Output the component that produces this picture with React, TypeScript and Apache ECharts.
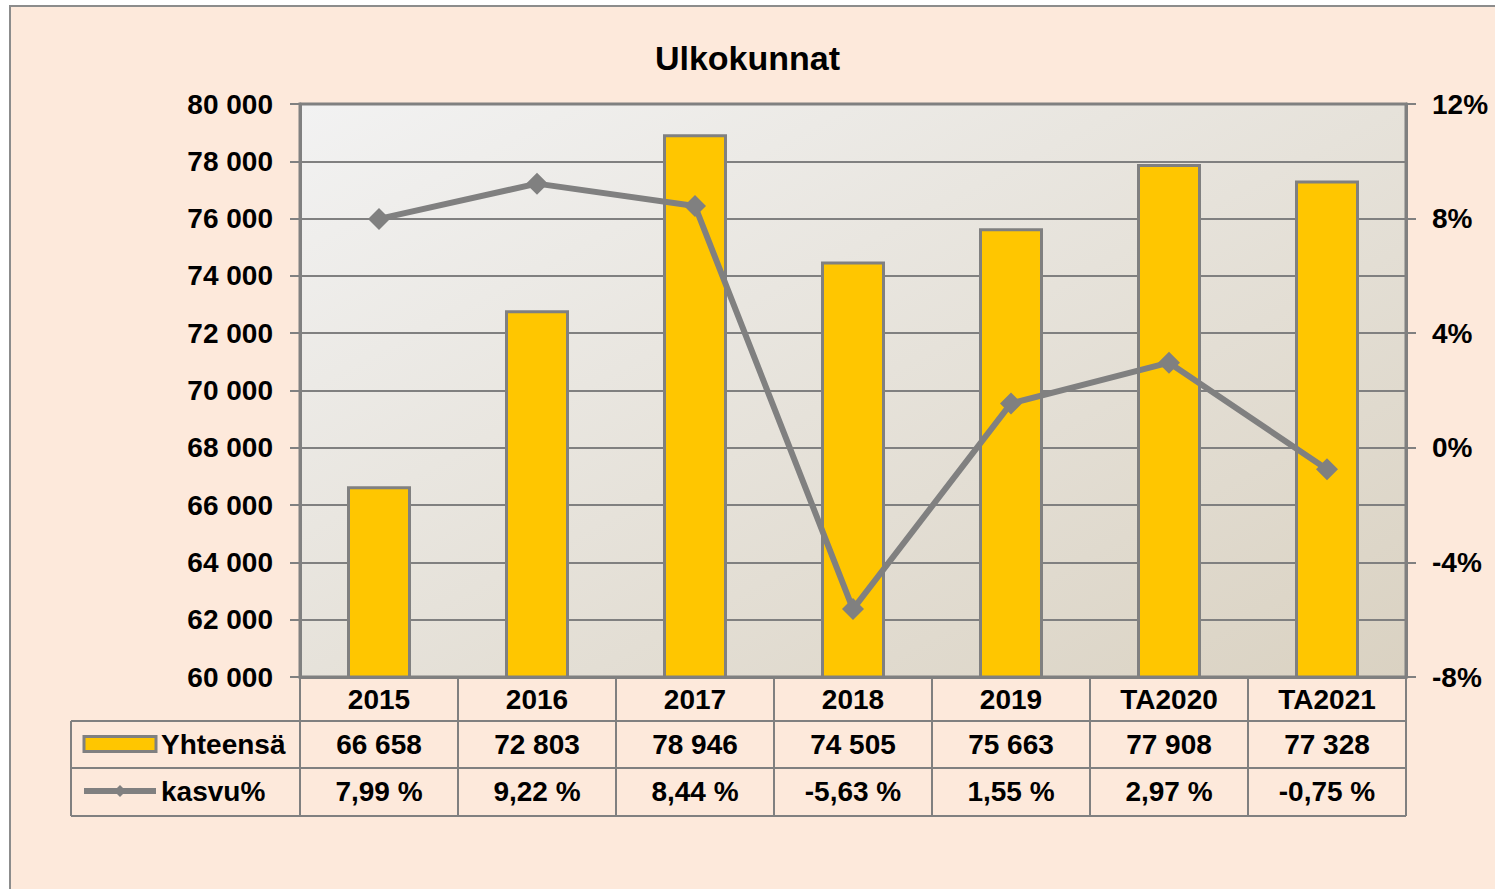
import React, { useEffect, useRef } from "react";
import * as echarts from "echarts";

const categories = ["2015", "2016", "2017", "2018", "2019", "TA2020", "TA2021"];
const totals = [66658, 72803, 78946, 74505, 75663, 77908, 77328];
const growth = [7.99, 9.22, 8.44, -5.63, 1.55, 2.97, -0.75];
const seriesNames = ["Yhteensä", "kasvu%"];
const titleText = "Ulkokunnat";

const FONT = "'Liberation Sans', Arial, sans-serif";
const GRAY = "#808080";

const fmtThousands = (v: number) =>
  String(Math.round(v)).replace(/\B(?=(\d{3})+(?!\d))/g, " ");
const fmtPct = (v: number) => v.toFixed(2).replace(".", ",") + " %";

export default function App() {
  const ref = useRef<HTMLDivElement>(null);
  useEffect(() => {
    if (!ref.current) return;
    const chart = echarts.init(ref.current, null, { renderer: "svg" });
    const gridLeft = 300;
    const gridRight = 1406;
    const gridTop = 104;
    const gridBottom = 677;
    const W = 1495;
    const H = 889;
    const row1 = 721;
    const row2 = 768;
    const row3 = 816;
    const legendLeft = 71;

    chart.setOption({
      animation: false,
      backgroundColor: "#ffffff",
      textStyle: { fontFamily: FONT },
      title: {
        text: titleText,
        left: "center",
        top: 36,
        textStyle: { fontSize: 34, fontWeight: "bold", color: "#000", fontFamily: FONT },
      },
      graphic: [
        {
          type: "rect",
          z: -10,
          shape: { x: 10, y: 6, width: W + 20, height: H + 20 },
          style: { fill: "#FDE9DB", stroke: "#8c8c8c", lineWidth: 2 },
        },
        {
          type: "group",
          z: 10,
          children: [
            { type: "line", shape: { x1: legendLeft, y1: row1, x2: gridRight, y2: row1 }, style: { stroke: GRAY, lineWidth: 2 } },
            { type: "line", shape: { x1: legendLeft, y1: row2, x2: gridRight, y2: row2 }, style: { stroke: GRAY, lineWidth: 2 } },
            { type: "line", shape: { x1: legendLeft, y1: row3, x2: gridRight, y2: row3 }, style: { stroke: GRAY, lineWidth: 2 } },
            { type: "line", shape: { x1: legendLeft, y1: row1, x2: legendLeft, y2: row3 }, style: { stroke: GRAY, lineWidth: 2 } },
          ],
        },
      ],
      legend: {
        orient: "vertical",
        left: 81,
        top: 730,
        padding: 0,
        itemGap: 19,
        itemWidth: 72,
        itemHeight: 15,
        selectedMode: false,
        lineStyle: { width: 6, color: GRAY },
        textStyle: { fontSize: 28, fontWeight: "bold", color: "#000", fontFamily: FONT },
        data: [
          { name: seriesNames[0], icon: "rect", itemStyle: { color: "#FFC600", borderColor: GRAY, borderWidth: 3 } },
          { name: seriesNames[1] },
        ],
      },
      grid: {
        left: gridLeft,
        top: gridTop,
        width: gridRight - gridLeft,
        height: gridBottom - gridTop,
        show: true,
        borderColor: GRAY,
        borderWidth: 3,
        backgroundColor: {
          type: "linear",
          x: 0,
          y: 0,
          x2: 1,
          y2: 1,
          colorStops: [
            { offset: 0, color: "#F2F2F2" },
            { offset: 1, color: "#DAD2C2" },
          ],
        },
      },
      xAxis: {
        type: "category",
        data: categories,
        boundaryGap: true,
        axisLine: { show: true, onZero: false, lineStyle: { color: GRAY, width: 3 } },
        axisTick: { show: true, inside: false, length: row3 - gridBottom, lineStyle: { color: GRAY, width: 2 } },
        axisLabel: {
          margin: 0,
          interval: 0,
          verticalAlign: "top",
          formatter: (_v: string, i: number) =>
            `{a|${categories[i]}}\n{b|${fmtThousands(totals[i])}}\n{c|${fmtPct(growth[i])}}`,
          rich: {
            a: { fontSize: 28, fontWeight: "bold", color: "#000", fontFamily: FONT, lineHeight: 44, align: "center" },
            b: { fontSize: 28, fontWeight: "bold", color: "#000", fontFamily: FONT, lineHeight: 46, align: "center" },
            c: { fontSize: 28, fontWeight: "bold", color: "#000", fontFamily: FONT, lineHeight: 48, align: "center" },
          },
        },
      },
      yAxis: [
        {
          type: "value",
          min: 60000,
          max: 80000,
          interval: 2000,
          axisLine: { show: true, lineStyle: { color: GRAY, width: 3 } },
          axisTick: { show: true, length: 10, lineStyle: { color: GRAY, width: 2 } },
          splitLine: { show: true, lineStyle: { color: GRAY, width: 2 } },
          axisLabel: {
            margin: 27,
            fontSize: 28,
            fontWeight: "bold",
            color: "#000",
            fontFamily: FONT,
            formatter: (v: number) => fmtThousands(v),
          },
        },
        {
          type: "value",
          min: -8,
          max: 12,
          interval: 4,
          position: "right",
          axisLine: { show: true, lineStyle: { color: GRAY, width: 3 } },
          axisTick: { show: true, length: 10, lineStyle: { color: GRAY, width: 2 } },
          splitLine: { show: false },
          axisLabel: {
            margin: 26,
            fontSize: 28,
            fontWeight: "bold",
            color: "#000",
            fontFamily: FONT,
            formatter: (v: number) => `${v}%`,
          },
        },
      ],
      series: [
        {
          name: seriesNames[0],
          type: "bar",
          data: totals,
          barWidth: 64,
          itemStyle: { color: "#FFC600", borderColor: GRAY, borderWidth: 3 },
          z: 2,
        },
        {
          name: seriesNames[1],
          type: "line",
          yAxisIndex: 1,
          data: growth,
          symbol: "diamond",
          symbolSize: 22,
          lineStyle: { color: GRAY, width: 6 },
          itemStyle: { color: GRAY },
          z: 3,
        },
      ],
    });
    return () => chart.dispose();
  }, []);
  return (
    <div
      ref={ref}
      style={{ position: "fixed", left: 0, top: 0, width: 1495, height: 889 }}
    />
  );
}
